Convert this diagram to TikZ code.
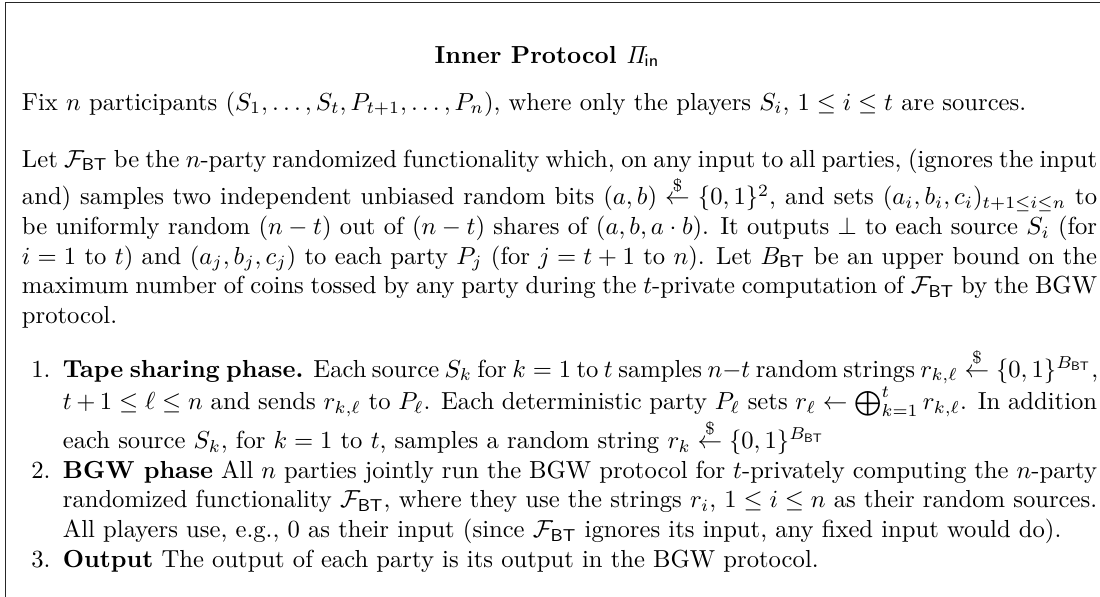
\documentclass[tikz,border=0pt]{standalone}
\usepackage{amsmath,amssymb}
\newcommand{\FBT}{\mathcal{F}_{\mathsf{BT}}}
\newcommand{\BBT}{B_{\mathsf{BT}}}
\newcommand{\rsamp}{\stackrel{\$}{\leftarrow}}
\newenvironment{steplist}{\begin{list}{\arabic{enumi}.}{\usecounter{enumi}\setlength{\leftmargin}{16.6pt}\setlength{\labelsep}{5pt}\setlength{\labelwidth}{11.6pt}\setlength{\itemsep}{0pt}\setlength{\parsep}{0pt}\setlength{\topsep}{0pt}\setlength{\partopsep}{0pt}}}{\end{list}}
\tikzset{para/.style={anchor=base west,inner sep=0pt,outer sep=0pt},
  frameline/.style={line width=0.6pt,black!85}}
\begin{document}
\begin{tikzpicture}[x=1pt,y=1pt]
\useasboundingbox (0,0) rectangle (446.6,-242);
\clip (0,0) rectangle (446.6,-242);
\coordinate (fa) at (2.23,-260);
\coordinate (fb) at (2.23,-1);
\coordinate (fc) at (470,-1);
\draw[frameline] (fa) -- (fb) -- (fc);
\node[anchor=base,inner sep=0pt] (title) at (222.1,-25.6) {\textbf{Inner Protocol $\mathit{\Pi}_{\mathsf{in}}$}};
\node[para] (fix) at (8.93,-44.66) {\begin{minipage}[t]{436.5pt}Fix $n$ participants $(S_1,\dots,S_t,P_{t+1},\dots,P_n)$, where only the players $S_i$, $1\le i\le t$ are sources.\end{minipage}};
\node[para] (let) at (8.93,-67.8) {\begin{minipage}[t]{436.5pt}Let $\FBT$ be the $n$-party randomized functionality which, on any input to all parties, (ignores the input\linebreak
and) samples two independent unbiased random bits $(a,b)\rsamp\{0,1\}^2$, and sets $(a_i,b_i,c_i)_{t+1\le i\le n}$ to\linebreak
be uniformly random $(n-t)$ out of $(n-t)$ shares of $(a,b,a\cdot b)$. It outputs $\perp$ to each source $S_i$ (for\linebreak
$i=1$ to $t$) and $(a_j,b_j,c_j)$ to each party $P_j$ (for $j=t+1$ to $n$). Let $\BBT$ be an upper bound on the\linebreak
maximum number of coins tossed by any party during the $t$-private computation of $\FBT$ by the BGW\linebreak
protocol.\end{minipage}};
\node[para] (steps) at (8.93,-153.1) {\begin{minipage}[t]{436.5pt}\begin{steplist}
\item \makebox[415pt][s]{\textbf{Tape sharing phase.} Each source $S_k$ for $k=1$ to $t$ samples $n{-}t$ random strings $r_{k,\ell}\rsamp\{0,1\}^{\BBT}$,}\newline
$t+1\le\ell\le n$ and sends $r_{k,\ell}$ to $P_\ell$. Each deterministic party $P_\ell$ sets $r_\ell\leftarrow\bigoplus_{k=1}^{t}r_{k,\ell}$. In addition\linebreak
each source $S_k$, for $k=1$ to $t$, samples a random string $r_k\rsamp\{0,1\}^{\BBT}$
\item \textbf{BGW phase} All $n$ parties jointly run the BGW protocol for $t$-privately computing the $n$-party\linebreak
randomized functionality $\FBT$, where they use the strings $r_i$, $1\le i\le n$ as their random sources.\linebreak
All players use, e.g., 0 as their input (since $\FBT$ ignores its input, any fixed input would do).
\item \textbf{Output} The output of each party is its output in the BGW protocol.
\end{steplist}\end{minipage}};
\end{tikzpicture}
\end{document}
